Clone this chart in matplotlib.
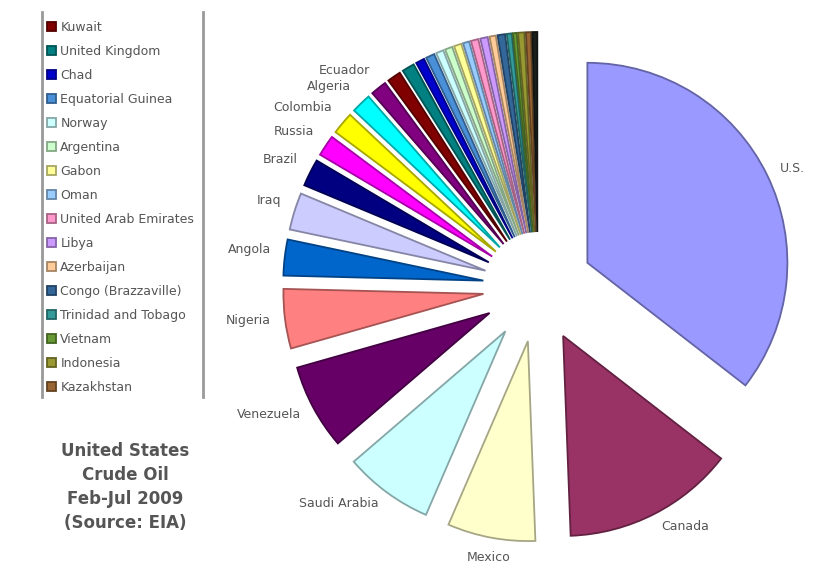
import matplotlib
matplotlib.use('Agg')
import matplotlib.pyplot as plt
import numpy as np
from matplotlib.colors import to_rgb
from matplotlib.lines import Line2D

plt.rcParams['font.family'] = ['DejaVu Sans']

# share of US crude oil supply, Feb-Jul 2009 (percent)
countries = ['U.S.', 'Canada', 'Mexico', 'Saudi Arabia', 'Venezuela', 'Nigeria',
             'Angola', 'Iraq', 'Brazil', 'Russia', 'Colombia', 'Algeria', 'Ecuador',
             'Kuwait', 'United Kingdom', 'Chad', 'Equatorial Guinea', 'Norway',
             'Argentina', 'Gabon', 'Oman', 'United Arab Emirates', 'Libya',
             'Azerbaijan', 'Congo (Brazzaville)', 'Trinidad and Tobago', 'Vietnam',
             'Indonesia', 'Kazakhstan', 'Other']
shares = [35.5, 13.9, 7.1, 7.2, 6.9, 4.8,
          2.9, 3.0, 2.2, 1.7, 1.8, 1.6, 1.3,
          1.1, 1.0, 0.7, 0.7, 0.6,
          0.6, 0.6, 0.5, 0.6, 0.6,
          0.5, 0.6, 0.4, 0.3,
          0.5, 0.4, 0.4]
colors = ['#9999FF', '#993366', '#FFFFCC', '#CCFFFF', '#660066', '#FF8080',
          '#0066CC', '#CCCCFF', '#000080', '#FF00FF', '#FFFF00', '#00FFFF', '#800080',
          '#800000', '#008080', '#0000CC', '#4A90D9', '#CCFFFF',
          '#CCFFCC', '#FFFF99', '#99CCFF', '#FF99CC', '#CC99FF',
          '#FFCC99', '#336699', '#339999', '#669933',
          '#999933', '#996633', '#1A1F1A']
# slices that get a text label next to them
labelled = countries[:13]
# slices listed in the (truncated) legend
legend_names = countries[13:29]

W, H = 838, 563
fig = plt.figure(figsize=(W / 100, H / 100), dpi=100)
ax = fig.add_axes([0, 0, 1, 1])

edge = [tuple(c * 0.65 for c in to_rgb(col)) for col in colors]
R = 200
wedges, _ = ax.pie(shares, colors=colors, startangle=90, counterclock=False,
                   center=(538, H - 287), radius=R, explode=[55] * len(shares),
                   wedgeprops=dict(linewidth=1.3))
for w, ec in zip(wedges, edge):
    w.set_edgecolor(ec)

ax.set_xlim(0, W)
ax.set_ylim(0, H)
ax.set_aspect('equal')
ax.axis('off')

# labels outside the labelled slices
for w, name in zip(wedges, countries):
    if name not in labelled:
        continue
    tm = np.deg2rad((w.theta1 + w.theta2) / 2)
    cx, cy = w.center
    d = R * 1.07
    xt, yt = cx + d * np.cos(tm), cy + d * np.sin(tm)
    c, s = np.cos(tm), np.sin(tm)
    ha = 'left' if c > 0.2 else ('right' if c < -0.2 else 'center')
    va = 'bottom' if (c < 0 and s > 0.05) else ('top' if s < -0.9 else 'center')
    ax.text(xt, yt, name, ha=ha, va=va, fontsize=9, color='#555555')

# legend (only part of the list is visible in the original)
fig.legend([wedges[countries.index(n)] for n in legend_names], legend_names,
           loc='upper left', bbox_to_anchor=(47 / W, 1 - 21 / H),
           frameon=False, fontsize=9, handlelength=0.72, handleheight=0.72,
           handletextpad=0.35, labelspacing=0.88, borderpad=0, borderaxespad=0,
           labelcolor='#555555')
for xl in (42, 203):
    fig.add_artist(Line2D([xl / W, xl / W], [1 - 12 / H, 1 - 397 / H],
                          color='#999999', lw=2, transform=fig.transFigure))

fig.text(125 / W, 1 - 487 / H, 'United States\nCrude Oil\nFeb-Jul 2009\n(Source: EIA)',
         ha='center', va='center', fontsize=12, fontweight='bold',
         color='#555555', linespacing=1.45)

plt.savefig('out.png', dpi=100)
plt.close()
